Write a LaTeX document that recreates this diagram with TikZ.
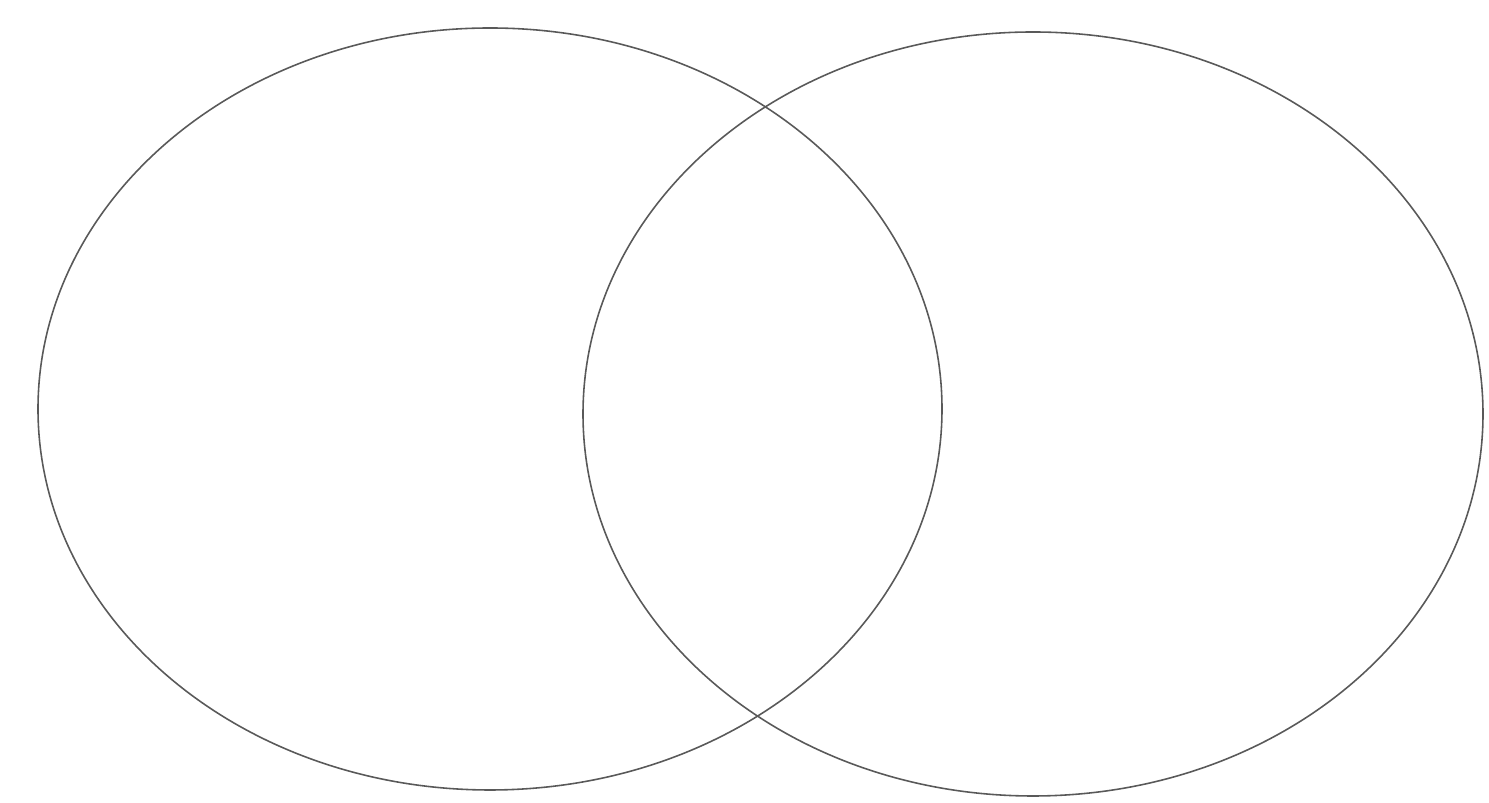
\documentclass[tikz,border=0pt]{standalone}
\begin{document}
\begin{tikzpicture}[line width=0.9pt, ring/.style={draw=black!65}]
  \useasboundingbox (0,0) rectangle (29.78,16.06);
  \draw[ring] (9.80,7.88) ellipse [x radius=9.04, y radius=7.62];
  \draw[ring] (20.66,7.78) ellipse [x radius=9.00, y radius=7.64];
\end{tikzpicture}
\end{document}
